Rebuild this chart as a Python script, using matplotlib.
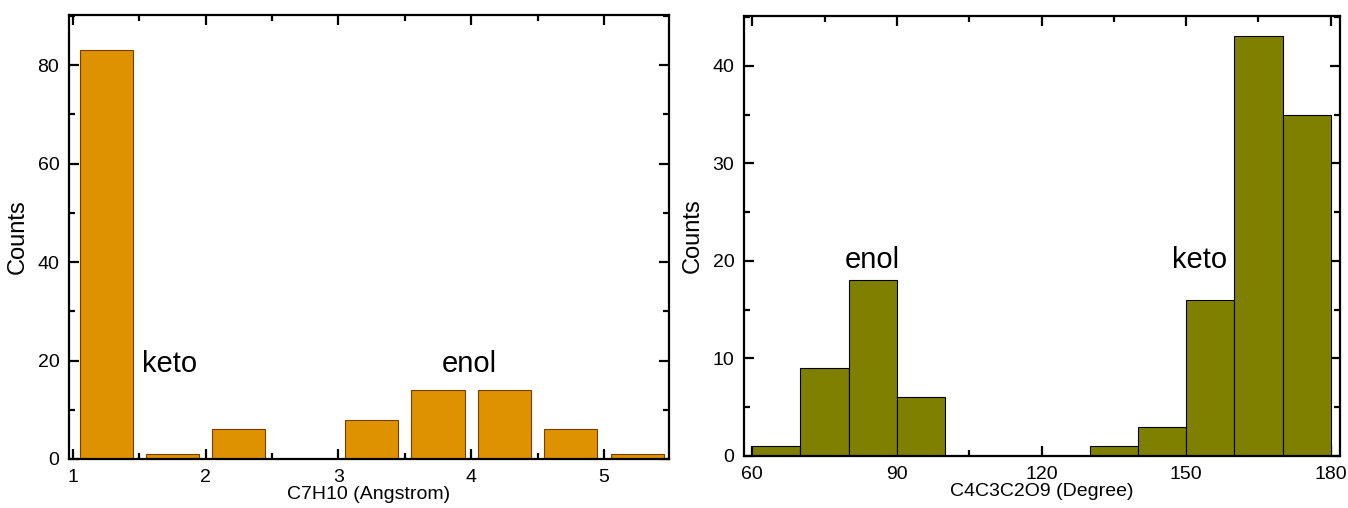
import numpy as np
import matplotlib
matplotlib.use("Agg")
import matplotlib.pyplot as plt
from matplotlib.ticker import MultipleLocator

plt.rcParams['font.family'] = ['Liberation Sans', 'DejaVu Sans']

# Left histogram: C7H10 distance (Angstrom)
bond_edges = [1.0, 1.5, 2.0, 2.5, 3.0, 3.5, 4.0, 4.5, 5.0, 5.5]
bond_counts = [83, 1, 6, 0, 8, 14, 14, 6, 1]

# Right histogram: C4C3C2O9 angle (Degree)
angle_edges = [60, 70, 80, 90, 100, 110, 120, 130, 140, 150, 160, 170, 180]
angle_counts = [1, 9, 18, 6, 0, 0, 0, 1, 3, 16, 43, 35]

left_labels = [("keto", 1.52, 17.7), ("enol", 3.78, 17.7)]
right_labels = [("enol", 79.2, 19.3), ("keto", 147.0, 19.3)]

fig = plt.figure(figsize=(13.48, 5.08), dpi=100)
ax1 = fig.add_axes([0.0512, 0.0965, 0.4451, 0.874])
ax2 = fig.add_axes([0.552, 0.1024, 0.442, 0.8661])

def style(ax):
    for s in ax.spines.values():
        s.set_linewidth(1.6)
    ax.tick_params(which='both', direction='in', top=True, right=True,
                   labelsize=14, width=1.6)
    ax.tick_params(which='major', length=7, pad=7)
    ax.tick_params(which='minor', length=4)

# Left
e = np.array(bond_edges)
centers = (e[:-1] + e[1:]) / 2
widths = (e[1:] - e[:-1]) * 0.8
ax1.bar(centers, bond_counts, width=widths, color='#DE9200',
        edgecolor='#7a3e00', linewidth=0.8, zorder=2)
ax1.set_xlim(0.97, 5.49)
ax1.set_ylim(0, 90.2)
ax1.xaxis.set_major_locator(MultipleLocator(1))
ax1.xaxis.set_minor_locator(MultipleLocator(0.5))
ax1.yaxis.set_major_locator(MultipleLocator(20))
ax1.yaxis.set_minor_locator(MultipleLocator(10))
style(ax1)
ax1.set_xlabel("C7H10 (Angstrom)", fontsize=14, labelpad=0)
ax1.set_ylabel("Counts", fontsize=17, labelpad=6)
for t, x, y in left_labels:
    ax1.text(x, y, t, fontsize=21, ha='left', va='baseline')

# Right
a = np.array(angle_edges)
ax2.bar(a[:-1], angle_counts, width=np.diff(a), align='edge', color='#808000',
        edgecolor='black', linewidth=0.8, zorder=2)
ax2.set_xlim(58.3, 181.9)
ax2.set_ylim(0, 45.1)
ax2.xaxis.set_major_locator(MultipleLocator(30))
ax2.xaxis.set_minor_locator(MultipleLocator(15))
ax2.yaxis.set_major_locator(MultipleLocator(10))
ax2.yaxis.set_minor_locator(MultipleLocator(5))
style(ax2)
ax2.set_xlabel("C4C3C2O9 (Degree)", fontsize=14, labelpad=0)
ax2.set_ylabel("Counts", fontsize=17, labelpad=6)
for t, x, y in right_labels:
    ax2.text(x, y, t, fontsize=21, ha='left', va='baseline')

fig.savefig("out.png", dpi=100)
